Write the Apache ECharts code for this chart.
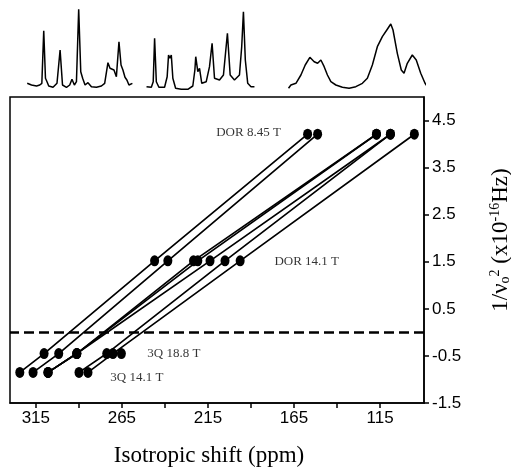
<!DOCTYPE html>
<html><head><meta charset="utf-8">
<script src="https://cdn.jsdelivr.net/npm/echarts@6/dist/echarts.min.js"></script>
<style>html,body{margin:0;padding:0;background:#fff}#c{width:511px;height:472px}</style>
</head><body><div id="c"></div>
<script>
// ---- data ----
const fieldNames = ['3Q 14.1 T', '3Q 18.8 T', 'DOR 14.1 T', 'DOR 8.45 T'];
const fieldY = [-0.85, -0.45, 1.52, 4.21];           // 1/nu0^2 (x10^-16 Hz) per experiment
// shift (ppm) of each site in each experiment, same order as fieldNames
const site1 = [324.3, 310.2, 246.0, 157.1];
const site2 = [316.6, 301.7, 238.3, 151.3];
const site3 = [307.9, 291.2, 223.4, 117.1];
const site4 = [307.9, 291.2, 220.9, 117.1];
const site5 = [307.9, 291.2, 213.8, 109.0];
const site6 = [289.9, 273.8, 205.1, 109.0];
const site7 = [284.7, 270.2, 196.3, 95.1];
const extra3Q188 = [265.3];
const sites = [site1, site2, site3, site4, site5, site6, site7];

const labelX = [271.7, 250.2, 176.4, 210.2];
const labelY = [-0.96, -0.45, 1.50, 4.25];

const xTicks = [315, 290, 265, 240, 215, 190, 165, 140, 115];
const xLabels = [315, 265, 215, 165, 115];
const yTicks = [-1.5, -0.5, 0.5, 1.5, 2.5, 3.5, 4.5];

// spectra above the plot (shift ppm, intensity arb.)
const spec188X = [320.0,317.5,314.6,312.7,311.5,310.4,309.4,308.5,307.5,305.0,302.7,300.9,299.5,297.2,295.3,294.0,292.6,291.4,290.1,288.9,287.8,286.4,284.7,282.7,279.8,276.9,275.0,273.1,271.9,270.8,269.6,268.2,266.7,265.5,264.4,263.2,262.1,260.9,258.9];
const spec188Y = [16.7,15,14,15,16.7,69.3,21.7,18.3,14,12.7,16.7,50,15,12.7,15,20.7,15,18.3,90.7,28.3,21.7,15,17.3,13.3,12.7,14,16.7,37.3,31.7,33.3,30,23.3,58.3,35,30,22.7,20,15,16.7];
const specD141X = [250.7,247.9,246.8,246.0,245.0,243.5,240.2,238.7,237.9,237.1,236.3,235.4,233.8,230.5,226.7,223.8,222.6,222.1,220.9,219.9,218.6,216.0,214.1,212.6,211.2,208.3,206.0,203.7,202.1,199.6,196.7,195.4,194.4,193.3,191.9,190.0,188.0];
const specD141Y = [13.3,12.7,18.3,61.7,18.3,12.7,12.7,23.3,45,41.7,45,21.7,11.7,10.7,10.7,14,30,43.3,28.3,31.7,16.7,18.3,33.3,56.7,21.7,20,25,66.7,25,20,25,53.3,88.3,40,16.7,13.3,13.3];
const specD845X = [168.2,166.8,163.9,161.0,158.5,155.8,153.3,151.3,149.4,147.5,145.6,143.6,140.7,136.9,133.0,129.1,125.3,122.4,119.5,116.6,113.7,111.1,108.8,107.5,105.0,102.7,101.1,99.2,96.3,94.0,91.4,88.9,87.2];
const specD845Y = [11.7,15,16.7,25,35,42.7,38.3,36.7,40,33.3,25,18.3,15,12.7,11.7,13.3,16.7,21.7,35,53.3,63.3,70,76,70,46.7,30,26.7,36.7,45,40,26.7,16.7,12.7];

// ---- chart ----
const chart = echarts.init(document.getElementById('c'), null, {renderer: 'canvas'});
const serif = 'Liberation Serif';
const sans = 'Liberation Sans';
const zip = (xs, ys) => xs.map((x, i) => [x, ys[i]]);

const series = [];
sites.forEach((s, i) => {
  series.push({
    type: 'line', xAxisIndex: 0, yAxisIndex: 0,
    data: zip(s, fieldY),
    symbol: 'circle', symbolSize: [9, 11],
    itemStyle: {color: '#000', opacity: 1},
    lineStyle: {color: '#000', width: 1.7},
    z: 3,
    markLine: i === 0 ? {
      silent: true, symbol: 'none', label: {show: false},
      lineStyle: {color: '#000', width: 2.5, type: [10, 5], opacity: 1},
      data: [{yAxis: 0}]
    } : undefined
  });
});
series.push({
  type: 'scatter', xAxisIndex: 0, yAxisIndex: 0,
  data: extra3Q188.map(x => [x, fieldY[1]]),
  symbol: 'circle', symbolSize: [9, 11], itemStyle: {color: '#000', opacity: 1}, z: 3
});
series.push({
  type: 'scatter', xAxisIndex: 0, yAxisIndex: 0, symbolSize: 0,
  data: fieldNames.map((n, i) => ({value: [labelX[i], labelY[i]], name: n})),
  label: {show: true, position: 'right', distance: 0, formatter: p => p.name,
    fontFamily: serif, fontSize: 13, color: '#000'},
  silent: true, z: 4
});
[[spec188X, spec188Y], [specD141X, specD141Y], [specD845X, specD845Y]].forEach(([xs, ys]) => {
  series.push({
    type: 'line', xAxisIndex: 1, yAxisIndex: 1, data: zip(xs, ys),
    showSymbol: false, symbol: 'none', clip: false,
    lineStyle: {color: '#000', width: 1.5}, silent: true
  });
});

chart.setOption({
  animation: false,
  backgroundColor: '#fff',
  grid: [
    {left: 10, right: 87, top: 97, bottom: 69, show: true, borderColor: '#000', borderWidth: 1.5,
     backgroundColor: 'transparent', containLabel: false, outerBoundsMode: 'none'},
    {left: 10, right: 87, top: 0, height: 100, show: false, containLabel: false, outerBoundsMode: 'none'}
  ],
  xAxis: [
    {
      type: 'value', gridIndex: 0, min: 89.5, max: 330, inverse: true,
      splitLine: {show: false},
      axisLine: {show: true, onZero: false, lineStyle: {color: '#000', width: 1.5}},
      axisTick: {show: true, length: 5, inside: false, lineStyle: {color: '#000', width: 1.5}, customValues: xTicks},
      axisLabel: {customValues: xLabels, color: '#000', fontFamily: sans, fontSize: 17, margin: 7},
      name: 'Isotropic shift (ppm)', nameLocation: 'middle', nameGap: 41,
      nameTextStyle: {fontFamily: serif, fontSize: 23, color: '#000', padding: [0, 16, 0, 0]}
    },
    {type: 'value', gridIndex: 1, min: 89.5, max: 330, inverse: true, show: false}
  ],
  yAxis: [
    {
      type: 'value', gridIndex: 0, position: 'right', min: -1.5, max: 5,
      splitLine: {show: false},
      axisLine: {show: true, onZero: false, lineStyle: {color: '#000', width: 1.5}},
      axisTick: {show: true, length: 5, inside: false, lineStyle: {color: '#000', width: 1.5}, customValues: yTicks},
      axisLabel: {customValues: yTicks, color: '#000', fontFamily: sans, fontSize: 17, margin: 8},
      name: '{a|1/ν}{sub|o}{sup|2}{a| (x10}{sup|-16}{a|Hz)}',
      nameLocation: 'middle', nameRotate: 90, nameGap: 64,
      nameTextStyle: {
        color: '#000', padding: [0, 0, 0, 20],
        rich: {
          a: {fontFamily: serif, fontSize: 23, color: '#000'},
          sub: {fontFamily: serif, fontSize: 14, color: '#000', padding: [10, 0, 0, 0]},
          sup: {fontFamily: serif, fontSize: 14, color: '#000', padding: [0, 0, 11, 0]}
        }
      }
    },
    {type: 'value', gridIndex: 1, min: 0, max: 100, show: false}
  ],
  series: series
});
</script>
</body></html>
